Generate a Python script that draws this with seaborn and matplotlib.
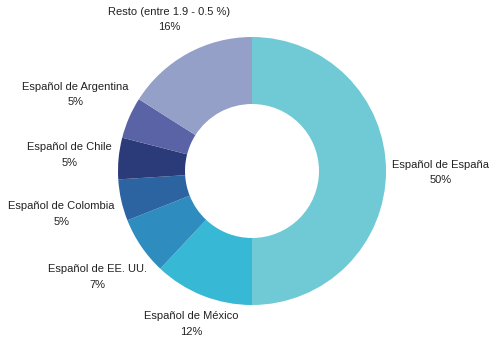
import matplotlib
matplotlib.use("Agg")
import matplotlib.pyplot as plt
import seaborn as sns

sns.set_theme(style="white")
plt.rcParams['font.family'] = ['Liberation Sans', 'DejaVu Sans']

# variantes del español, sentido horario desde arriba
labels = ["Español de España", "Español de México", "Español de EE. UU.",
          "Español de Colombia", "Español de Chile", "Español de Argentina",
          "Resto (entre 1.9 - 0.5 %)"]
shares = [50, 12, 7, 5, 5, 5, 16]
colors = ["#6fcad5", "#37b8d4", "#2f8cbf", "#2b64a0", "#2b3a78", "#5a63a6", "#94a0c8"]

# posición de cada etiqueta (texto, no marcas)
label_xy = [(1.41, -0.01), (-0.45, -1.14), (-1.15, -0.79), (-1.42, -0.32),
            (-1.36, 0.12), (-1.32, 0.57), (-0.62, 1.13)]

fig = plt.figure(figsize=(5, 3.43), dpi=100)
ax = fig.add_axes([0, 0, 1, 1])
ax.pie(shares, colors=colors, startangle=90, counterclock=False,
       wedgeprops=dict(width=0.5, edgecolor="none"))
for lab, val, (x, y) in zip(labels, shares, label_xy):
    ax.text(x, y, f"{lab}\n{val}%", ha="center", va="center",
            fontsize=8, color="#222222", linespacing=1.7)

ax.set_xlim(-252 / 134, 248 / 134)
ax.set_ylim(-172 / 134, 171 / 134)
ax.set_aspect("equal")
ax.axis("off")
fig.savefig("out.png", dpi=100)
